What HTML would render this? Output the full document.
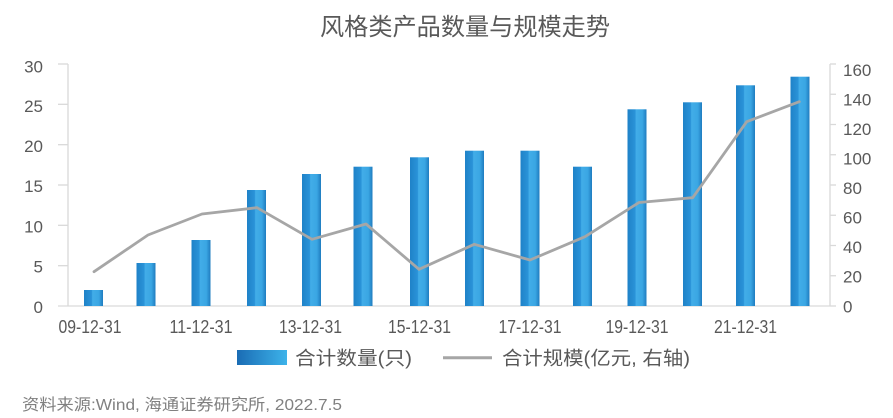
<!DOCTYPE html>
<html>
<head>
<meta charset="utf-8">
<style>
  html, body { margin: 0; padding: 0; background: #ffffff; }
  body { width: 893px; height: 418px; overflow: hidden; }
  svg { display: block; }
  .t { font-family: "Liberation Sans", "Noto Sans CJK SC", sans-serif; fill: #595959; }
  .c { font-family: "Liberation Sans", "Noto Sans CJK SC", sans-serif; }
</style>
</head>
<body>
<svg width="893" height="418" viewBox="0 0 893 418" xmlns="http://www.w3.org/2000/svg">
  <defs>
    <linearGradient id="bar" x1="0" y1="0" x2="1" y2="0">
      <stop offset="0%" stop-color="#1f82c8"/>
      <stop offset="40%" stop-color="#2a93d8"/>
      <stop offset="45%" stop-color="#42ade8"/>
      <stop offset="78%" stop-color="#3aa6e3"/>
      <stop offset="100%" stop-color="#1f7cc0"/>
    </linearGradient>
    <linearGradient id="leg" x1="0" y1="0" x2="1" y2="0">
      <stop offset="0%" stop-color="#1a6cb4"/>
      <stop offset="100%" stop-color="#3db3ea"/>
    </linearGradient>
  </defs>

  <!-- Title -->
  <text class="c" x="320" y="35" font-size="24" fill="#595959" textLength="290" lengthAdjust="spacingAndGlyphs">风格类产品数量与规模走势</text>

  <!-- Axes -->
  <g stroke="#d9d9d9" stroke-width="1.3" fill="none">
    <line x1="68" y1="64" x2="68" y2="306"/>
    <line x1="58" y1="306" x2="830" y2="306"/>
    <line x1="830" y1="64" x2="830" y2="306"/>
    <!-- left ticks -->
    <line x1="58" y1="64" x2="68" y2="64"/>
    <line x1="58" y1="104.3" x2="68" y2="104.3"/>
    <line x1="58" y1="144.7" x2="68" y2="144.7"/>
    <line x1="58" y1="185" x2="68" y2="185"/>
    <line x1="58" y1="225.3" x2="68" y2="225.3"/>
    <line x1="58" y1="265.7" x2="68" y2="265.7"/>
    <!-- right ticks -->
    <line x1="830" y1="64" x2="836" y2="64"/>
    <line x1="830" y1="94.25" x2="836" y2="94.25"/>
    <line x1="830" y1="124.5" x2="836" y2="124.5"/>
    <line x1="830" y1="154.75" x2="836" y2="154.75"/>
    <line x1="830" y1="185" x2="836" y2="185"/>
    <line x1="830" y1="215.25" x2="836" y2="215.25"/>
    <line x1="830" y1="245.5" x2="836" y2="245.5"/>
    <line x1="830" y1="275.75" x2="836" y2="275.75"/>
    <line x1="830" y1="306" x2="836" y2="306"/>
  </g>

  <!-- Left axis labels -->
  <g class="t" font-size="17" text-anchor="end">
    <text x="43" y="72.5">30</text>
    <text x="43" y="112">25</text>
    <text x="43" y="152">20</text>
    <text x="43" y="192">15</text>
    <text x="43" y="232.5">10</text>
    <text x="43" y="272.5">5</text>
    <text x="43" y="313">0</text>
  </g>

  <!-- Right axis labels -->
  <g class="t" font-size="17">
    <text x="843" y="76">160</text>
    <text x="843" y="105.5">140</text>
    <text x="843" y="135">120</text>
    <text x="843" y="164.5">100</text>
    <text x="843" y="194">80</text>
    <text x="843" y="223.5">60</text>
    <text x="843" y="253">40</text>
    <text x="843" y="282.5">20</text>
    <text x="843" y="312.5">0</text>
  </g>

  <!-- X labels -->
  <g class="t" font-size="18">
    <text x="58.5" y="333" textLength="63" lengthAdjust="spacingAndGlyphs">09-12-31</text>
    <text x="169.5" y="333" textLength="63" lengthAdjust="spacingAndGlyphs">11-12-31</text>
    <text x="279" y="333" textLength="63" lengthAdjust="spacingAndGlyphs">13-12-31</text>
    <text x="388" y="333" textLength="63" lengthAdjust="spacingAndGlyphs">15-12-31</text>
    <text x="498.5" y="333" textLength="63" lengthAdjust="spacingAndGlyphs">17-12-31</text>
    <text x="605.5" y="333" textLength="63" lengthAdjust="spacingAndGlyphs">19-12-31</text>
    <text x="714" y="333" textLength="63" lengthAdjust="spacingAndGlyphs">21-12-31</text>
  </g>

  <!-- Bars -->
  <g fill="url(#bar)">
    <rect x="84" y="290" width="19" height="16"/>
    <rect x="136.5" y="263" width="19" height="43"/>
    <rect x="191.5" y="240" width="19" height="66"/>
    <rect x="247" y="190" width="19" height="116"/>
    <rect x="302" y="174" width="19" height="132"/>
    <rect x="353.5" y="166.7" width="19" height="139.3"/>
    <rect x="410" y="157.3" width="19" height="148.7"/>
    <rect x="465" y="150.7" width="19" height="155.3"/>
    <rect x="520.5" y="150.7" width="19" height="155.3"/>
    <rect x="573" y="166.7" width="19" height="139.3"/>
    <rect x="627.5" y="109.3" width="19" height="196.7"/>
    <rect x="683" y="102.3" width="19" height="203.7"/>
    <rect x="736" y="85.3" width="19" height="220.7"/>
    <rect x="790.5" y="76.7" width="19" height="229.3"/>
  </g>

  <!-- Line -->
  <polyline fill="none" stroke="#a6a6a6" stroke-width="2.8" stroke-linejoin="round" stroke-linecap="round"
    points="94,271.7 148,235 202,214 257,207.7 312,239.3 366,224 419,269.3 474.3,244.3 530,260 585,236.7 639,202.5 692.7,197.7 746.7,121.7 799.3,101.7"/>

  <!-- Legend -->
  <rect x="237" y="350" width="50" height="15" fill="url(#leg)"/>
  <text class="t" x="295" y="364.5" font-size="19" textLength="117" lengthAdjust="spacingAndGlyphs">合计数量(只)</text>
  <line x1="443" y1="357.7" x2="492" y2="357.7" stroke="#a6a6a6" stroke-width="3"/>
  <text class="t" x="502" y="364.5" font-size="19" textLength="188" lengthAdjust="spacingAndGlyphs">合计规模(亿元, 右轴)</text>

  <!-- Source -->
  <text class="c" x="22" y="410" font-size="16" fill="#808080" textLength="320" lengthAdjust="spacingAndGlyphs">资料来源:Wind, 海通证券研究所, 2022.7.5</text>
</svg>
</body>
</html>
